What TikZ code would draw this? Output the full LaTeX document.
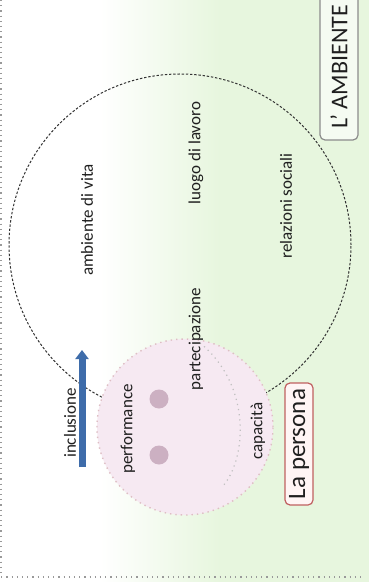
\documentclass[tikz,border=0pt]{standalone}
\usepackage{fontspec}
\setmainfont{Carlito}
\usetikzlibrary{arrows.meta}
\definecolor{bggreen}{RGB}{231,246,222}
\definecolor{pinkfill}{RGB}{246,233,242}
\definecolor{pinkline}{RGB}{222,190,196}
\definecolor{eyecol}{RGB}{204,176,194}
\definecolor{arrowblue}{RGB}{62,108,170}
\definecolor{boxred}{RGB}{192,96,96}

\begin{document}
\begin{tikzpicture}[%
	x=0.5pt, y=-0.5pt,
	every node/.style = {inner sep=0pt, text=black!88, font=\fontsize{8.5}{10}\selectfont},
	txt/.style={rotate=90},
	world/.style={circle, draw=black!80, dash pattern=on 1.2pt off 0.9pt, line width=0.5pt, minimum size=171pt},
	me/.style={circle, draw=pinkline, fill=pinkfill, dotted, line width=0.7pt, minimum size=88pt},
	eye/.style={circle, fill=eyecol, minimum size=9.5pt},
	namebox/.style={rotate=90, rounded corners=2.5pt, draw, line width=0.6pt, font=\fontsize{12.5}{14}\selectfont},
	smile/.style={draw=black!25, dotted, line width=0.6pt},
	frame/.style={draw=black!40, dotted, line width=0.6pt}
	]
  \useasboundingbox (0,0) rectangle (369,582);
  \fill[white] (0,0) rectangle (369,582);
  \shade[left color=white, right color=bggreen] (100,0) rectangle (220,582);
  \fill[bggreen] (219,0) rectangle (369,582);
  \draw[frame] (1,0) -- (1,577) -- (365,577);
  % the two circles
  \node[world] (amb) at (180,245) {};
  \node[me] (pers) at (185,427) {};
  \draw[smile] (200,343) .. controls (252,385) and (247,460) .. (222,487);
  \node[eye] (e1) at (159,399) {};
  \node[eye] (e2) at (159,455) {};
  % texts
  \node[txt] (vita) at (87,220) {ambiente di vita};
  \node[txt] (lav) at (196,153) {luogo di lavoro};
  \node[txt] (rel) at (286,206) {relazioni sociali};
  \node[txt] (part) at (196,339) {partecipazione};
  \node[txt] (incl) at (70,423) {inclusione};
  \node[txt] (perf) at (128,429) {performance};
  \node[txt] (cap) at (258,431) {capacità};
  \coordinate (a1) at (82,467);
  \coordinate (a2) at (82,350);
  \draw[arrowblue, line width=3.5pt, -{Triangle[width=6.5pt,length=4.5pt]}] (a1) -- (a2);
  \node[namebox, draw=boxred, fill=red!4, minimum width=61pt, minimum height=14pt] (lp) at (299,444) {La persona};
  \node[namebox, draw=black!45, fill=white!60!bggreen, minimum width=73pt, minimum height=19pt, font=\fontsize{12}{14}\selectfont] (la) at (339,67) {L’ AMBIENTE};
\end{tikzpicture}
\end{document}
